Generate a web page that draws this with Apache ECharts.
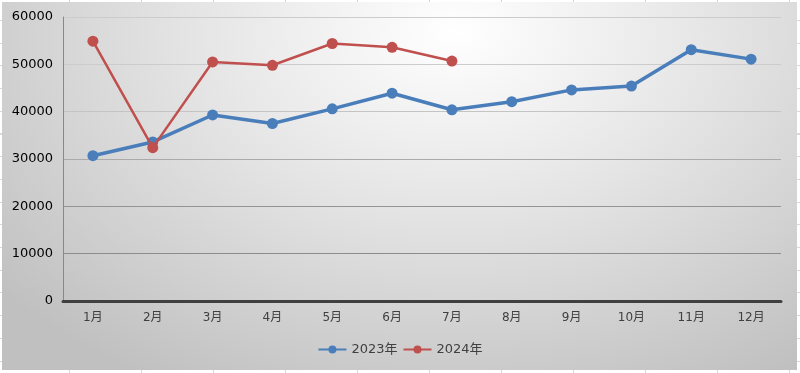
<!DOCTYPE html>
<html>
<head>
<meta charset="utf-8">
<script src="https://cdn.jsdelivr.net/npm/echarts@6/dist/echarts.min.js"></script>
<style>
html,body{margin:0;padding:0;width:800px;height:373px;overflow:hidden;}
body{background:#fff;
background-image:
 repeating-linear-gradient(to right, transparent 0, transparent 69px, #d8d8d8 69px, #d8d8d8 70px, transparent 70px, transparent 72px),
 repeating-linear-gradient(to bottom, transparent 0, transparent 20px, #d8d8d8 20px, #d8d8d8 21px, transparent 21px, transparent 22.7px);}
#bg{position:absolute;left:2px;top:2px;width:795px;height:368px;
background:radial-gradient(ellipse 75% 110% at 57% 8%, #ffffff 0%, #e4e4e4 45%, #c0c0c0 100%);}
#main{position:absolute;left:0;top:0;width:800px;height:373px;}
</style>
</head>
<body>
<div id="bg"></div>
<div id="main"></div>
<script>
const categories = ['1月','2月','3月','4月','5月','6月','7月','8月','9月','10月','11月','12月'];
const seriesNames = ['2023年','2024年'];
const values2023 = [30700,33600,39300,37500,40600,43900,40400,42100,44600,45400,53100,51100];
const values2024 = [54900,32400,50500,49800,54400,53600,50700];
const yTicks = {min:0, max:60000, interval:10000};

const chart = echarts.init(document.getElementById('main'), null, {renderer:'canvas'});
const font = 'DejaVu Sans, Noto Sans CJK SC, sans-serif';
chart.setOption({
  backgroundColor:'transparent',
  animation:false,
  grid:{left:63, right:19, top:17, bottom:72, containLabel:false},
  legend:{
    data:seriesNames, bottom:12, left:'center', itemWidth:28, itemHeight:10, itemGap:5,
    textStyle:{fontFamily:font, fontSize:13, color:'#404040'}
  },
  xAxis:{
    type:'category', data:categories, boundaryGap:true,
    axisLine:{lineStyle:{color:'#404040', width:3}},
    axisTick:{show:false},
    axisLabel:{fontFamily:font, fontSize:12, color:'#404040', margin:11},
    splitLine:{show:false}
  },
  yAxis:{
    type:'value', min:yTicks.min, max:yTicks.max, interval:yTicks.interval,
    axisLine:{show:true, lineStyle:{color:'#888', width:1}},
    axisTick:{show:false},
    axisLabel:{fontFamily:font, fontSize:13, color:'#000', margin:10, formatter:function(v){return String(v);}},
    splitLine:{show:true, lineStyle:{color:['#888','#8c8c8c','#949494','#aaaaaa','#c4c4c4','#cccccc','#cccccc'], width:1}}
  },
  series:[
    {name:seriesNames[0], type:'line', data:values2023, symbol:'circle', symbolSize:11,
     lineStyle:{width:3.5, color:'#4a7ebb'}, itemStyle:{color:'#4a7ebb'}, z:2},
    {name:seriesNames[1], type:'line', data:values2024, symbol:'circle', symbolSize:11,
     lineStyle:{width:2.5, color:'#c0504d'}, itemStyle:{color:'#c0504d'}, z:3}
  ]
});
</script>
</body>
</html>
